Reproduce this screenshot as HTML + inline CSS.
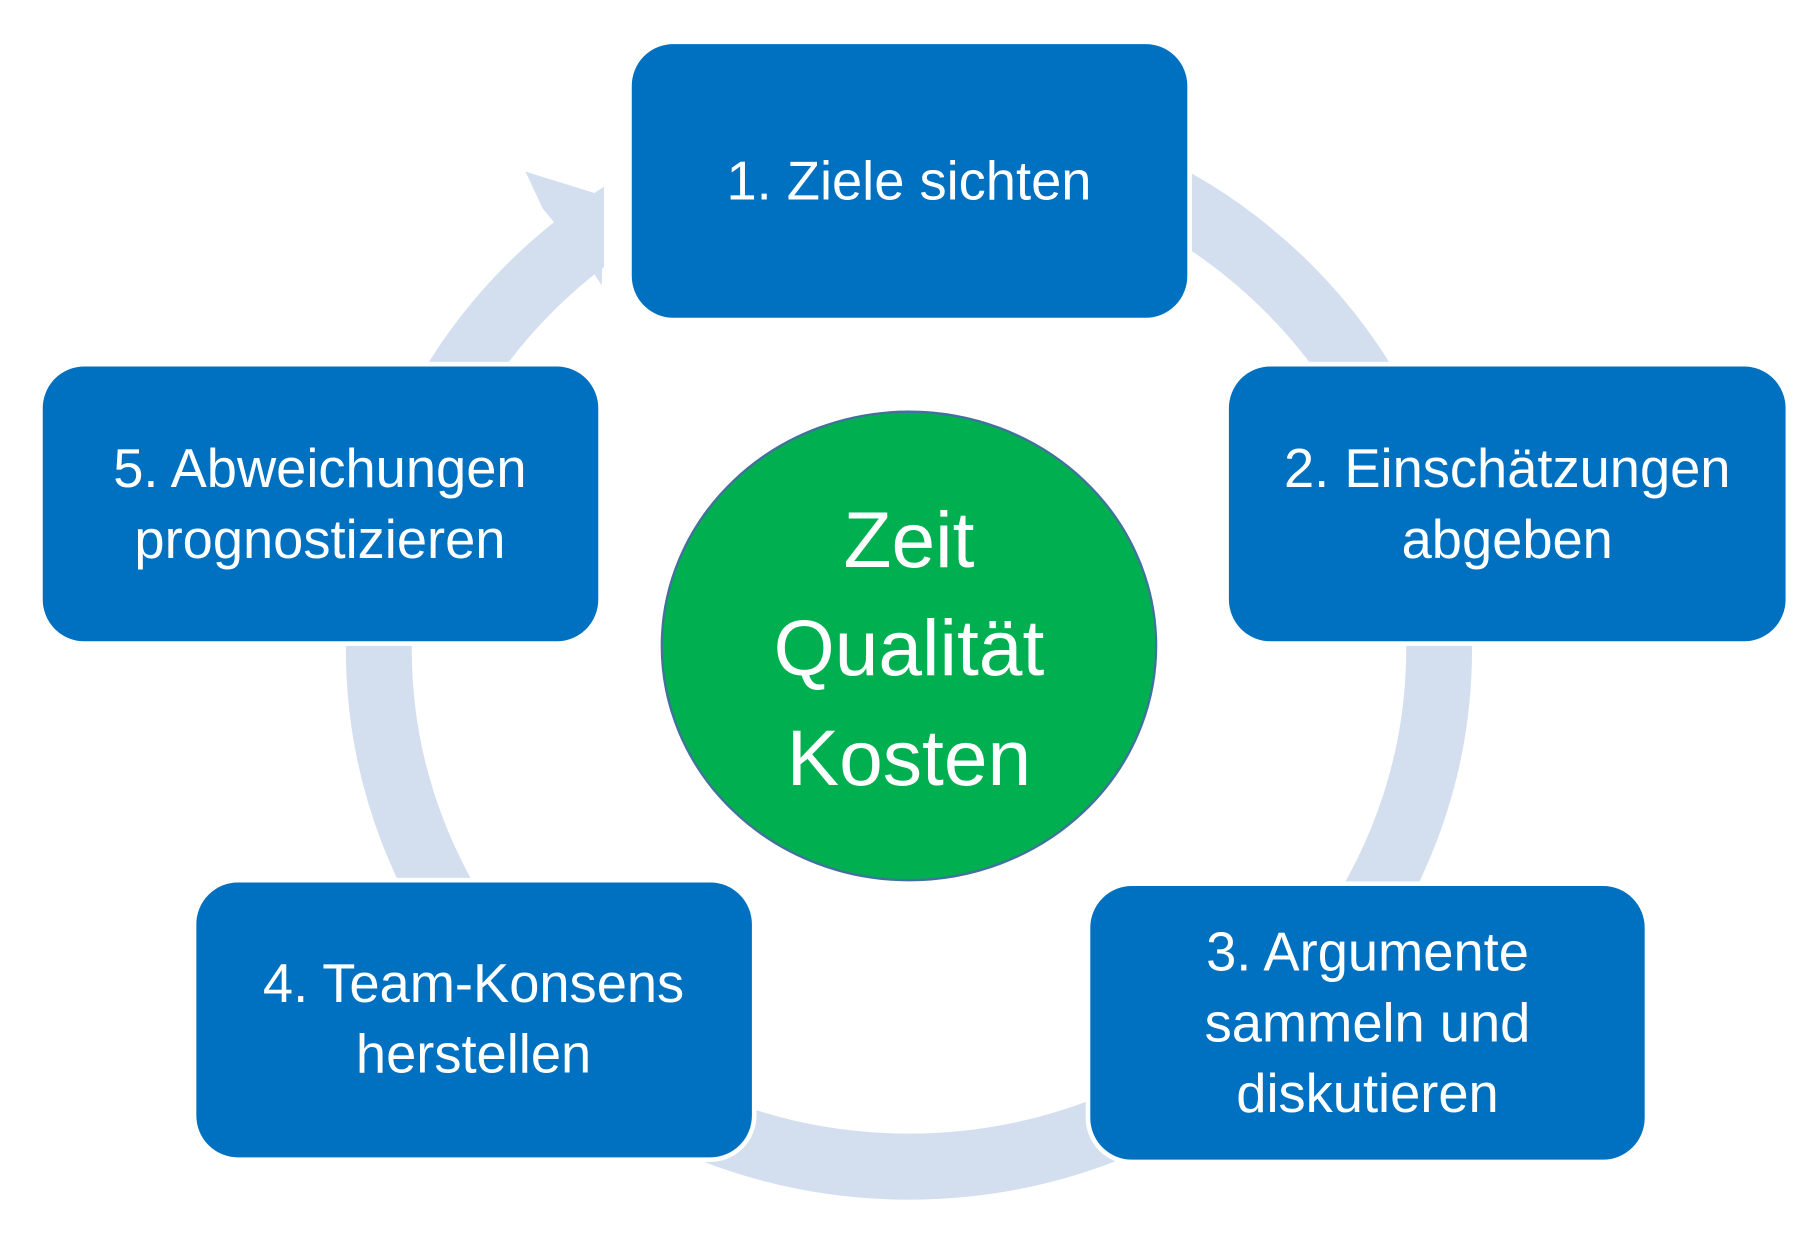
<!DOCTYPE html>
<html><head><meta charset="utf-8"><style>html,body{margin:0;padding:0;background:#fff}svg{display:block}</style></head>
<body>
<svg width="1811" height="1242" viewBox="0 0 1568 1071" preserveAspectRatio="none" xmlns="http://www.w3.org/2000/svg">
<ellipse cx="787" cy="560" rx="459" ry="446" fill="none" stroke="#D3DEEF" stroke-width="57"/>
<rect x="523" y="110" width="30" height="160" fill="#fff"/>
<polygon points="455,148 523,169 521,246 505,222 470,180" fill="#D3DEEF"/>
<g fill="#0070C0" stroke="#fff" stroke-width="4">
<rect x="545" y="36" width="485" height="240" rx="38"/>
<rect x="1062" y="314" width="486" height="241" rx="38"/>
<rect x="942" y="762" width="484" height="240" rx="38"/>
<rect x="168" y="759" width="485" height="241" rx="38"/>
<rect x="35" y="314" width="485" height="241" rx="38"/>
</g>
<ellipse cx="787" cy="557" rx="214" ry="202" fill="#00B050" stroke="#41719C" stroke-width="2"/>
<g fill="#fff" font-family="Liberation Sans, sans-serif" font-size="47" text-anchor="middle">
<text x="787" y="172">1. Ziele sichten</text>
<text x="1305" y="420">2. Einschätzungen</text>
<text x="1305" y="481">abgeben</text>
<text x="1184" y="837">3. Argumente</text>
<text x="1184" y="898">sammeln und</text>
<text x="1184" y="959">diskutieren</text>
<text x="410" y="864">4. Team-Konsens</text>
<text x="410" y="925">herstellen</text>
<text x="277" y="420">5. Abweichungen</text>
<text x="277" y="481">prognostizieren</text>
<g font-size="68">
<text x="787" y="489">Zeit</text>
<text x="787" y="582">Qualität</text>
<text x="787" y="677">Kosten</text>
</g>
</g>
</svg>
</body></html>
